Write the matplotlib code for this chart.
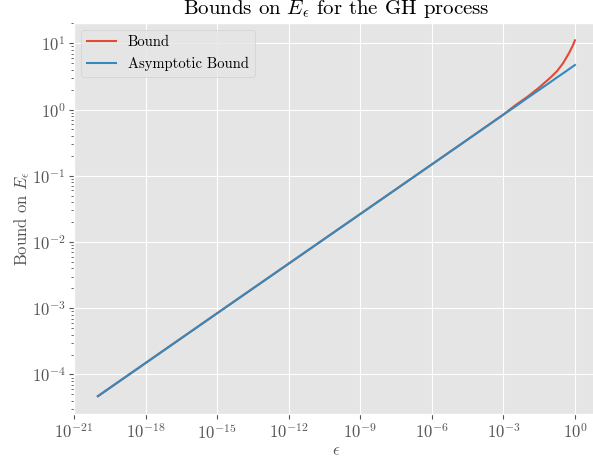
import matplotlib
matplotlib.use("Agg")
import matplotlib.pyplot as plt
import numpy as np

# values (log10 of epsilon, bounds)
log_eps = [-20, -15, -10, -5, -3, -2.5, -2, -1.5, -1, -0.75, -0.5, -0.25, -0.1, 0]
bound = [4.7e-5, 8.4e-4, 0.0149, 0.264, 0.84, 1.16, 1.55, 2.15, 3.1, 3.8, 5.0, 7.1, 9.1, 11.1]
asym_bound = [4.7e-5, 8.4e-4, 0.0149, 0.264, 0.836, 1.11, 1.49, 1.98, 2.64, 3.06, 3.52, 4.07, 4.44, 4.7]

plt.style.use('ggplot')
plt.rcParams['font.family'] = 'serif'
plt.rcParams['font.serif'] = ['cmr10', 'DejaVu Serif']
plt.rcParams['mathtext.fontset'] = 'cm'
plt.rcParams['axes.formatter.use_mathtext'] = True
plt.rcParams['axes.unicode_minus'] = False

eps = 10.0 ** np.array(log_eps)

fig = plt.figure(figsize=(5.93, 4.63), dpi=100)
ax = fig.add_axes([0.1248, 0.1058, 0.885, 0.8456])

ax.loglog(eps, bound, label='Bound', linewidth=1.5)
ax.loglog(eps, asym_bound, label='Asymptotic Bound', linewidth=1.5)

ax.set_title(r'Bounds on $E_\epsilon$ for the GH process', fontsize=15)
ax.set_xlabel(r'$\epsilon$', fontsize=12, labelpad=1)
ax.set_ylabel(r'Bound on $E_\epsilon$', fontsize=12, labelpad=0)
ax.tick_params(axis='both', which='major', labelsize=12, pad=2.5)
ax.legend(loc='upper left', fontsize=10.5)

fig.savefig('out.png', dpi=100)
